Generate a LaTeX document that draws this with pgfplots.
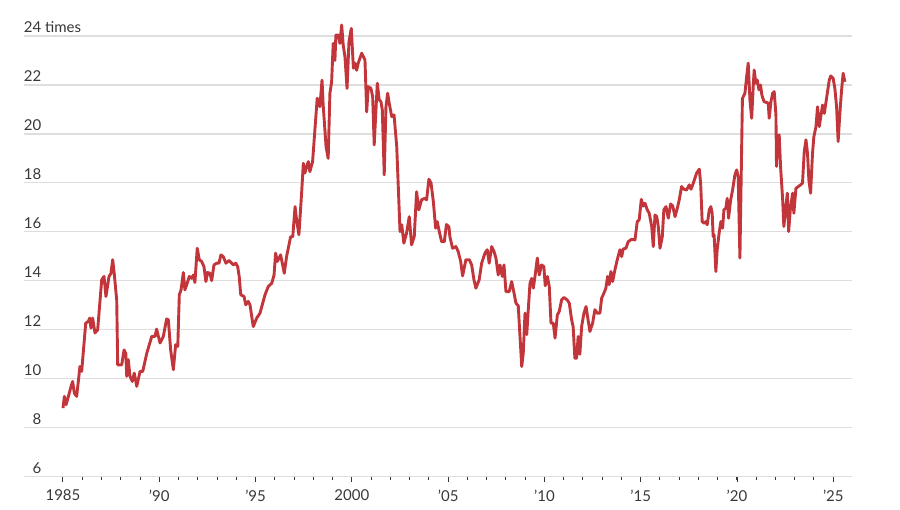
\documentclass[border=0pt]{standalone}
\usepackage{fontspec}
\setmainfont{Lato}
\usepackage{pgfplots}
\pgfplotsset{compat=1.18}

\definecolor{linered}{HTML}{C2363B}
\definecolor{gridgray}{HTML}{DEDEDE}
\definecolor{textgray}{HTML}{383838}

% forward P/E
\pgfplotstableread{
year pe
1985.00 8.80
1985.07 9.28
1985.16 8.94
1985.28 9.28
1985.42 9.69
1985.50 9.89
1985.59 9.41
1985.71 9.28
1985.88 10.50
1985.97 10.30
1986.18 12.27
1986.31 12.34
1986.39 12.48
1986.45 12.07
1986.54 12.48
1986.66 11.87
1986.80 12.00
1987.01 14.04
1987.13 14.18
1987.23 13.36
1987.39 14.18
1987.49 14.30
1987.58 14.86
1987.66 14.30
1987.79 13.20
1987.84 10.57
1988.05 10.57
1988.17 11.18
1988.26 11.04
1988.31 10.10
1988.39 10.78
1988.48 10.10
1988.60 9.89
1988.70 10.23
1988.83 9.69
1989.00 10.30
1989.14 10.30
1989.35 11.04
1989.61 11.73
1989.78 11.73
1989.86 12.03
1990.04 11.46
1990.21 11.73
1990.38 12.44
1990.47 12.41
1990.59 11.18
1990.73 10.37
1990.85 11.39
1990.96 11.32
1991.04 13.43
1991.13 13.63
1991.25 14.34
1991.33 13.63
1991.45 13.90
1991.56 14.18
1991.68 14.10
1991.77 14.24
1991.85 13.93
1991.97 15.33
1992.08 14.86
1992.20 14.79
1992.32 14.58
1992.42 13.97
1992.51 14.34
1992.63 14.31
1992.72 14.01
1992.84 14.65
1992.98 14.72
1993.10 14.72
1993.20 15.06
1993.32 14.99
1993.46 14.72
1993.62 14.83
1993.76 14.72
1993.84 14.65
1993.97 14.72
1994.07 14.58
1994.15 14.18
1994.23 13.43
1994.40 13.36
1994.49 13.02
1994.62 13.16
1994.71 13.02
1994.88 12.13
1995.06 12.48
1995.23 12.68
1995.49 13.43
1995.66 13.77
1995.84 13.90
1995.96 14.24
1996.04 15.13
1996.13 14.79
1996.30 15.06
1996.49 14.31
1996.61 14.99
1996.82 15.80
1996.93 15.80
1997.05 17.03
1997.13 16.49
1997.25 15.88
1997.39 17.58
1997.48 18.80
1997.56 18.40
1997.65 18.67
1997.74 18.87
1997.82 18.46
1997.96 18.87
1998.08 20.16
1998.20 21.46
1998.34 21.11
1998.45 22.20
1998.51 21.18
1998.66 19.48
1998.77 19.00
1998.86 21.66
1998.95 22.13
1999.03 23.70
1999.12 23.00
1999.17 24.04
1999.29 24.04
1999.38 23.70
1999.47 24.45
1999.55 23.63
1999.64 23.16
1999.75 21.86
1999.85 23.77
1999.97 24.31
2000.08 22.68
2000.16 22.89
2000.25 22.60
2000.33 22.89
2000.51 23.30
2000.68 23.02
2000.77 20.90
2000.85 21.93
2000.99 21.86
2001.08 21.52
2001.16 19.55
2001.32 22.07
2001.42 21.39
2001.51 21.32
2001.58 20.98
2001.68 18.33
2001.77 21.11
2001.86 21.66
2001.94 21.25
2002.07 20.71
2002.19 20.78
2002.33 19.48
2002.41 17.85
2002.50 16.01
2002.59 16.29
2002.70 15.54
2002.84 15.95
2002.98 16.62
2003.10 15.47
2003.24 15.81
2003.36 17.64
2003.48 16.90
2003.62 17.31
2003.79 17.37
2003.88 17.31
2004.00 18.15
2004.11 18.00
2004.23 17.24
2004.35 16.15
2004.43 16.42
2004.54 16.01
2004.66 15.60
2004.80 15.60
2004.91 16.30
2005.04 16.21
2005.09 15.80
2005.23 15.33
2005.40 15.40
2005.52 15.20
2005.65 14.79
2005.75 14.20
2005.92 14.86
2006.10 14.86
2006.22 14.65
2006.34 14.04
2006.44 13.70
2006.61 14.04
2006.74 14.72
2006.91 15.13
2007.03 15.27
2007.13 14.72
2007.26 15.40
2007.38 15.20
2007.48 14.93
2007.60 14.24
2007.69 14.65
2007.81 14.18
2007.90 14.65
2008.00 13.56
2008.17 13.56
2008.30 13.97
2008.42 13.50
2008.52 13.09
2008.64 12.98
2008.73 11.73
2008.82 10.50
2008.90 11.05
2008.99 12.68
2009.08 11.80
2009.16 12.82
2009.25 13.91
2009.34 14.10
2009.42 13.70
2009.51 14.18
2009.63 14.93
2009.73 14.24
2009.85 14.65
2009.97 14.58
2010.04 13.80
2010.15 14.18
2010.25 13.77
2010.34 12.27
2010.46 12.27
2010.55 11.66
2010.67 12.61
2010.77 12.75
2010.89 13.22
2011.01 13.32
2011.18 13.22
2011.29 13.09
2011.41 12.41
2011.49 12.13
2011.58 10.84
2011.67 10.84
2011.75 11.73
2011.84 11.00
2011.93 12.13
2012.05 12.68
2012.16 12.95
2012.24 12.54
2012.36 11.93
2012.50 12.27
2012.62 12.82
2012.74 12.68
2012.88 12.68
2012.97 13.29
2013.09 13.50
2013.19 13.70
2013.28 14.18
2013.36 13.84
2013.45 14.38
2013.54 13.97
2013.66 14.45
2013.78 14.86
2013.92 15.27
2014.01 14.99
2014.09 15.30
2014.23 15.33
2014.35 15.60
2014.53 15.70
2014.70 15.67
2014.82 16.42
2014.92 16.49
2015.03 17.33
2015.13 17.05
2015.22 17.17
2015.34 16.90
2015.44 16.76
2015.57 16.22
2015.65 15.40
2015.74 16.69
2015.83 16.62
2015.91 16.22
2016.00 15.33
2016.12 15.81
2016.20 16.90
2016.31 17.03
2016.43 16.56
2016.55 17.14
2016.66 17.06
2016.78 16.62
2016.90 16.97
2017.00 17.31
2017.12 17.85
2017.24 17.74
2017.38 17.71
2017.52 17.92
2017.61 17.74
2017.73 17.99
2017.90 18.40
2018.04 18.56
2018.11 17.99
2018.19 16.42
2018.30 16.35
2018.38 16.42
2018.45 16.29
2018.56 16.90
2018.64 17.03
2018.71 16.76
2018.76 15.81
2018.81 15.88
2018.90 14.38
2018.97 15.27
2019.07 15.95
2019.16 16.42
2019.25 16.15
2019.32 16.90
2019.42 16.97
2019.49 17.37
2019.56 16.56
2019.67 17.31
2019.77 17.71
2019.89 18.33
2019.98 18.53
2020.06 18.26
2020.15 14.93
2020.28 21.45
2020.41 21.66
2020.50 22.34
2020.58 22.89
2020.67 21.39
2020.76 20.64
2020.84 21.93
2020.89 22.61
2020.98 22.07
2021.05 22.20
2021.14 21.80
2021.22 22.00
2021.29 21.59
2021.40 21.32
2021.54 21.28
2021.62 21.25
2021.67 20.64
2021.76 21.32
2021.85 21.66
2021.93 21.73
2022.02 20.78
2022.05 18.67
2022.12 19.89
2022.19 19.96
2022.26 18.67
2022.37 17.31
2022.43 16.22
2022.54 17.03
2022.61 17.58
2022.68 16.01
2022.78 17.03
2022.89 17.58
2022.95 16.76
2023.06 17.78
2023.18 17.85
2023.30 17.92
2023.40 17.99
2023.49 19.28
2023.58 19.76
2023.66 19.21
2023.73 18.12
2023.82 17.58
2023.92 19.21
2023.99 19.89
2024.10 20.30
2024.18 21.11
2024.27 20.30
2024.35 20.71
2024.44 21.18
2024.53 20.84
2024.61 21.25
2024.70 21.73
2024.79 22.20
2024.87 22.37
2024.99 22.27
2025.08 21.86
2025.17 21.11
2025.25 19.69
2025.34 20.84
2025.43 21.80
2025.51 22.48
2025.60 22.13
}\pedata

\begin{document}
\begin{tikzpicture}
\useasboundingbox (-24pt,-33.3pt) rectangle (876pt,476.7pt);
\begin{axis}[
  scale only axis, width=828pt, height=440.7pt,
  xmin=1982.975, xmax=2025.97, ymin=6, ymax=24,
  clip=false,
  axis x line*=bottom, axis y line*=left,
  y axis line style={draw=none},
  x axis line style={gridgray, line width=1.2pt},
  ytick={6,8,...,24},
  yticklabels={6,8,10,12,14,16,18,20,22,{24\rlap{ times}}},
  ymajorgrids, grid style={gridgray, line width=1.2pt},
  ytick style={draw=none},
  xtick={1985,1990,...,2025},
  xticklabels={1985,’90,’95,2000,’05,’10,’15,’20,’25},
  minor xtick={1986,...,2024},
  tick align=outside,
  major tick length=5pt, minor tick length=3pt,
  xtick style={textgray, line width=1pt},
  ticklabel style={font=\fontsize{15}{18}\selectfont, text=textgray},
  xticklabel style={anchor=north, inner sep=0pt, yshift=-8pt},
  yticklabel style={anchor=base east, inner sep=0pt, xshift=22.5pt, yshift=3.4pt},
]
\addplot[linered, line width=2.9pt, line join=round] table[x=year, y=pe] {\pedata};
\end{axis}
\end{tikzpicture}
\end{document}
